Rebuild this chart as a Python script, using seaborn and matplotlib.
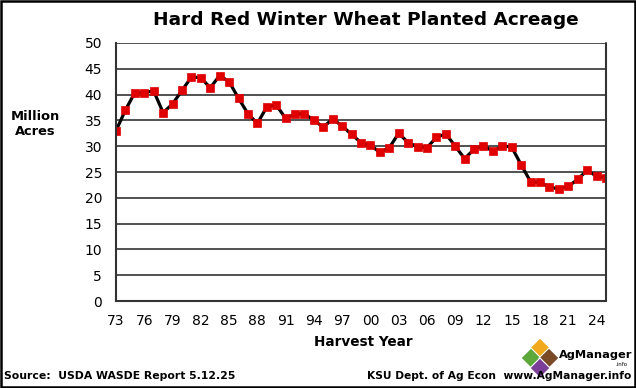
import matplotlib
matplotlib.use("Agg")
import matplotlib.pyplot as plt
from matplotlib.patches import Polygon, Rectangle
import numpy as np
import pandas as pd
import seaborn as sns

# Harvest years and HRW planted acreage (million acres)
years = list(range(1973, 2026))
acres = [33.0, 37.0, 40.4, 40.4, 40.7, 36.5, 38.2, 40.8, 43.4, 43.3,
         41.3, 43.7, 42.5, 39.3, 36.3, 34.4, 37.6, 38.0, 35.4, 36.2,
         36.3, 35.0, 33.7, 35.3, 33.9, 32.3, 30.7, 30.2, 28.8, 29.7,
         32.5, 30.7, 29.9, 29.7, 31.7, 32.4, 30.0, 27.6, 29.4, 30.1,
         29.0, 30.1, 29.8, 26.4, 23.1, 23.0, 22.1, 21.7, 22.2, 23.6,
         25.3, 24.2, 23.9]
tick_labels = ["73", "76", "79", "82", "85", "88", "91", "94", "97", "00",
               "03", "06", "09", "12", "15", "18", "21", "24"]

df = pd.DataFrame({"year": years, "acres": acres})

sns.set_style("white")
plt.rcParams["font.family"] = ["DejaVu Sans"]
plt.rcParams["text.color"] = "black"
plt.rcParams["xtick.color"] = "black"
plt.rcParams["ytick.color"] = "black"

fig = plt.figure(figsize=(6.36, 3.88), dpi=100)
ax = fig.add_axes([0.1824, 0.2242, 0.9528 - 0.1824, 0.8892 - 0.2242])

sns.lineplot(data=df, x="year", y="acres", ax=ax, color="black", linewidth=2.3,
             marker="s", markersize=5.6, markerfacecolor="#e00000",
             markeredgecolor="#e00000", markeredgewidth=0.5)

ax.set_xlim(1973, 2025)
ax.set_ylim(0, 50)
ax.set_yticks(range(0, 51, 5))
ax.yaxis.grid(True, color="#333333", linewidth=1.2)
ax.xaxis.grid(False)

# tick marks every 2 years, labels every 3 years
ax.xaxis.remove_overlapping_locs = False
ax.set_xticks(range(1973, 2026, 2))
ax.set_xticklabels([])
ax.set_xticks(range(1973, 2025, 3), minor=True)
ax.set_xticklabels(tick_labels, minor=True)
ax.tick_params(axis="x", which="major", direction="out", length=5, width=1.2, color="#333333")
ax.tick_params(axis="x", which="minor", length=0, pad=9, labelsize=10)
ax.tick_params(axis="y", direction="out", length=6, width=1.2, color="#333333", labelsize=10, pad=4)

for side in ["top", "right"]:
    ax.spines[side].set_visible(False)
ax.spines["left"].set_color("#333333")
ax.spines["left"].set_linewidth(1.5)
ax.spines["bottom"].set_color("#333333")
ax.spines["bottom"].set_linewidth(1.5)
ax.set_xlabel("")
ax.set_ylabel("")

# right frame of plot area
fig.add_artist(plt.Line2D([0.9528, 0.9528], [0.2242, 0.8892], color="#333333", lw=1.5))

fig.text(0.575, 0.948, "Hard Red Winter Wheat Planted Acreage", ha="center", va="center",
         fontsize=13.3, fontweight="bold")
fig.text(0.055, 0.68, "Million\nAcres", ha="center", va="center", fontsize=9.4,
         fontweight="bold", linespacing=1.15)
fig.text(0.572, 0.118, "Harvest Year", ha="center", va="center", fontsize=9.8, fontweight="bold")
fig.text(0.006, 0.018, "Source:  USDA WASDE Report 5.12.25", ha="left", va="bottom",
         fontsize=7.8, fontweight="bold")
fig.text(0.993, 0.018, "KSU Dept. of Ag Econ  www.AgManager.info", ha="right", va="bottom",
         fontsize=7.7, fontweight="bold")

# AgManager logo (rough)
W, H = 636, 388
def diamond(cx, cy, r, color):
    pts = [(cx / W, 1 - (cy - r) / H), ((cx + r) / W, 1 - cy / H),
           (cx / W, 1 - (cy + r) / H), ((cx - r) / W, 1 - cy / H)]
    fig.add_artist(Polygon(pts, closed=True, transform=fig.transFigure,
                           facecolor=color, edgecolor="white", lw=0.8))

diamond(540, 348, 10, "#f2a81d")
diamond(531, 358, 10, "#5da83a")
diamond(549, 358, 10, "#7a4a26")
diamond(540, 368, 10, "#7b3f99")
fig.text(596 / W, 1 - 355 / H, "AgManager", ha="center", va="center", fontsize=8.2,
         fontweight="bold")
fig.text(628 / W, 1 - 365 / H, ".info", ha="right", va="center", fontsize=4)

# border around the whole image
fig.add_artist(Rectangle((0.0015, 0.0025), 0.997, 0.995, transform=fig.transFigure,
                         fill=False, edgecolor="black", lw=1.8))

fig.savefig("out.png", dpi=100)
